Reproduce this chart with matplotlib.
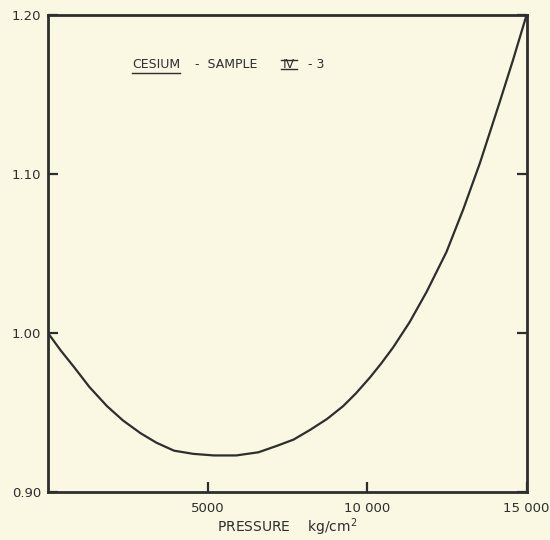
import matplotlib
matplotlib.use("Agg")
from matplotlib import pyplot as plt

# pressure in kg/cm^2 and relative value
pressure = [0, 400, 800, 1300, 1850, 2350, 2900, 3400, 3950, 4550, 5200,
            5900, 6600, 7170, 7700, 8210, 8750, 9250, 9650, 10090, 10450,
            10820, 11340, 11870, 12490, 13020, 13540, 14170, 14580, 15000]
value = [1.000, 0.989, 0.979, 0.966, 0.954, 0.945, 0.937, 0.931, 0.926,
         0.924, 0.923, 0.923, 0.925, 0.929, 0.933, 0.939, 0.946, 0.954,
         0.962, 0.972, 0.981, 0.991, 1.007, 1.026, 1.051, 1.078, 1.107,
         1.146, 1.172, 1.200]

x_ticks = [5000, 10000, 15000]
x_tick_labels = ["5000", "10 000", "15 000"]
y_ticks = [0.90, 1.00, 1.10, 1.20]
y_tick_labels = ["0.90", "1.00", "1.10", "1.20"]

ink = "#2e2e2e"
paper = "#faf7e2"

fig = plt.figure(figsize=(5.5, 5.4), dpi=100, facecolor=paper)
ax = fig.add_axes([0.0873, 0.0889, 0.870, 0.883], facecolor=paper)

ax.plot(pressure, value, color=ink, lw=1.6, solid_capstyle="round",
        solid_joinstyle="round")

ax.set_xlim(0, 15000)
ax.set_ylim(0.90, 1.20)
ax.set_xticks(x_ticks)
ax.set_xticklabels(x_tick_labels)
ax.set_yticks(y_ticks)
ax.set_yticklabels(y_tick_labels)

for s in ax.spines.values():
    s.set_color(ink)
    s.set_linewidth(2.0)

ax.tick_params(axis="both", direction="in", length=7, width=1.6, color=ink,
               labelsize=9.5, labelcolor=ink)
ax.tick_params(axis="x", pad=7)
ax.tick_params(axis="y", pad=5, right=True)

ax.set_xlabel("PRESSURE    kg/cm$^2$", fontsize=10, color=ink, labelpad=1)

# caption inside the frame: CESIUM underlined, roman IV with bars
cap_y = 0.889
kw = dict(transform=ax.transAxes, fontsize=9, color=ink, va="baseline")
t_cs = ax.text(0.175, cap_y, "CESIUM", **kw)
ax.text(0.307, cap_y, "-  SAMPLE", **kw)
t_iv = ax.text(0.491, cap_y, "IV", **kw)
ax.text(0.543, cap_y, "- 3", **kw)

fig.canvas.draw()
inv = ax.transAxes.inverted()
bb = t_cs.get_window_extent().transformed(inv)
ax.plot([bb.x0, bb.x1], [bb.y0 - 0.003] * 2, transform=ax.transAxes,
        color=ink, lw=1.0)
bb = t_iv.get_window_extent().transformed(inv)
ax.plot([bb.x0 - 0.004, bb.x1 + 0.004], [cap_y - 0.001] * 2,
        transform=ax.transAxes, color=ink, lw=1.0)
ax.plot([bb.x0 - 0.004, bb.x1 + 0.004], [cap_y + 0.016] * 2,
        transform=ax.transAxes, color=ink, lw=1.0)

fig.savefig("out.png", dpi=100, facecolor=paper)
